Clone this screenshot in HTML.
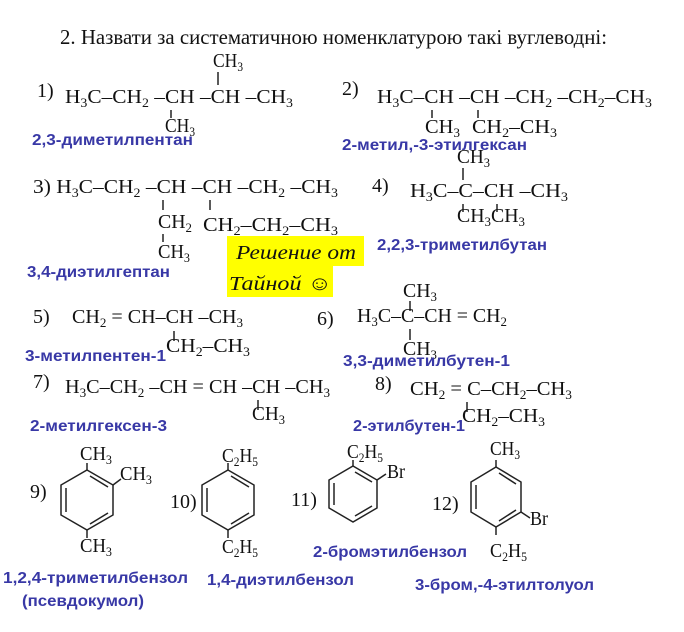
<!DOCTYPE html>
<html><head><meta charset="utf-8"><style>
html,body{margin:0;padding:0;background:#fff;}
svg{display:block;}
.f{font-family:"Liberation Serif","DejaVu Serif",serif;font-size:20px;fill:#111;}
.s{font-size:13px;}
.b{font-family:"Liberation Sans","DejaVu Sans",sans-serif;font-weight:bold;font-size:16px;fill:#3838a6;}
.h{font-family:"Liberation Serif",serif;font-style:italic;font-size:20px;fill:#111;}
line,polygon{stroke:#222;stroke-width:1.5;fill:none;}
</style></head><body>
<svg width="684" height="632" viewBox="0 0 684 632" xmlns="http://www.w3.org/2000/svg">
<text class="f" x="60" y="44" textLength="547" lengthAdjust="spacingAndGlyphs" style="font-size:21px">2. Назвати за систематичною номенклатурою такі вуглеводні:</text>

<!-- 1 -->
<text class="f" x="37" y="97">1)</text>
<text class="f" x="65" y="103" textLength="228" lengthAdjust="spacingAndGlyphs">H<tspan class="s" dy="4">3</tspan><tspan dy="-4">C–CH</tspan><tspan class="s" dy="4">2</tspan><tspan dy="-4"> –CH –CH –CH</tspan><tspan class="s" dy="4">3</tspan></text>
<text class="f" x="213" y="67" textLength="30" lengthAdjust="spacingAndGlyphs">CH<tspan class="s" dy="4">3</tspan></text>
<line x1="218" y1="72" x2="218" y2="85"/>
<line x1="171" y1="110" x2="171" y2="118"/>
<text class="f" x="165" y="132" textLength="30" lengthAdjust="spacingAndGlyphs">CH<tspan class="s" dy="4">3</tspan></text>
<text class="b" x="32" y="145" textLength="161" lengthAdjust="spacingAndGlyphs">2,3-диметилпентан</text>

<!-- 2 -->
<text class="f" x="342" y="95">2)</text>
<text class="f" x="377" y="103" textLength="275" lengthAdjust="spacingAndGlyphs">H<tspan class="s" dy="4">3</tspan><tspan dy="-4">C–CH –CH –CH</tspan><tspan class="s" dy="4">2</tspan><tspan dy="-4"> –CH</tspan><tspan class="s" dy="4">2</tspan><tspan dy="-4">–CH</tspan><tspan class="s" dy="4">3</tspan></text>
<line x1="432" y1="110" x2="432" y2="118"/><line x1="478" y1="110" x2="478" y2="118"/>
<text class="f" x="425" y="133" textLength="35" lengthAdjust="spacingAndGlyphs">CH<tspan class="s" dy="4">3</tspan></text>
<text class="f" x="472" y="133" textLength="85" lengthAdjust="spacingAndGlyphs">CH<tspan class="s" dy="4">2</tspan><tspan dy="-4">–CH</tspan><tspan class="s" dy="4">3</tspan></text>
<text class="b" x="342" y="150" textLength="185" lengthAdjust="spacingAndGlyphs">2-метил,-3-этилгексан</text>

<!-- 3 -->
<text class="f" x="33" y="193" textLength="305" lengthAdjust="spacingAndGlyphs">3) H<tspan class="s" dy="4">3</tspan><tspan dy="-4">C–CH</tspan><tspan class="s" dy="4">2</tspan><tspan dy="-4"> –CH –CH –CH</tspan><tspan class="s" dy="4">2</tspan><tspan dy="-4"> –CH</tspan><tspan class="s" dy="4">3</tspan></text>
<line x1="163" y1="200" x2="163" y2="210"/><line x1="210" y1="200" x2="210" y2="210"/>
<text class="f" x="158" y="228" textLength="34" lengthAdjust="spacingAndGlyphs">CH<tspan class="s" dy="4">2</tspan></text>
<text class="f" x="203" y="231" textLength="135" lengthAdjust="spacingAndGlyphs">CH<tspan class="s" dy="4">2</tspan><tspan dy="-4">–CH</tspan><tspan class="s" dy="4">2</tspan><tspan dy="-4">–CH</tspan><tspan class="s" dy="4">3</tspan></text>
<line x1="163" y1="234" x2="163" y2="242"/>
<text class="f" x="158" y="258" textLength="32" lengthAdjust="spacingAndGlyphs">CH<tspan class="s" dy="4">3</tspan></text>
<text class="b" x="27" y="277" textLength="143" lengthAdjust="spacingAndGlyphs">3,4-диэтилгептан</text>

<!-- 4 -->
<text class="f" x="372" y="192">4)</text>
<text class="f" x="457" y="163" textLength="33" lengthAdjust="spacingAndGlyphs">CH<tspan class="s" dy="4">3</tspan></text>
<line x1="463" y1="168" x2="463" y2="180"/>
<text class="f" x="410" y="197" textLength="158" lengthAdjust="spacingAndGlyphs">H<tspan class="s" dy="4">3</tspan><tspan dy="-4">C–C–CH –CH</tspan><tspan class="s" dy="4">3</tspan></text>
<line x1="463" y1="204" x2="463" y2="212"/><line x1="497" y1="204" x2="497" y2="212"/>
<text class="f" x="457" y="222" textLength="68" lengthAdjust="spacingAndGlyphs">CH<tspan class="s" dy="4">3</tspan><tspan dy="-4">CH</tspan><tspan class="s" dy="4">3</tspan></text>
<text class="b" x="377" y="250" textLength="170" lengthAdjust="spacingAndGlyphs">2,2,3-триметилбутан</text>

<!-- yellow -->
<rect x="227" y="236" width="137" height="30" fill="#ffff00"/>
<rect x="227" y="265" width="106" height="32" fill="#ffff00"/>
<text class="h" x="236" y="259" textLength="120" lengthAdjust="spacingAndGlyphs">Решение от</text>
<text class="h" x="229" y="290" textLength="103" lengthAdjust="spacingAndGlyphs">Тайной ☺</text>

<!-- 5 -->
<text class="f" x="33" y="323">5)</text>
<text class="f" x="72" y="323" textLength="171" lengthAdjust="spacingAndGlyphs">CH<tspan class="s" dy="4">2</tspan><tspan dy="-4"> = CH–CH –CH</tspan><tspan class="s" dy="4">3</tspan></text>
<line x1="174" y1="331" x2="174" y2="341"/>
<text class="f" x="166" y="352" textLength="84" lengthAdjust="spacingAndGlyphs">CH<tspan class="s" dy="4">2</tspan><tspan dy="-4">–CH</tspan><tspan class="s" dy="4">3</tspan></text>
<text class="b" x="25" y="361" textLength="141" lengthAdjust="spacingAndGlyphs">3-метилпентен-1</text>

<!-- 6 -->
<text class="f" x="317" y="325">6)</text>
<text class="f" x="403" y="297" textLength="34" lengthAdjust="spacingAndGlyphs">CH<tspan class="s" dy="4">3</tspan></text>
<line x1="410" y1="301" x2="410" y2="311"/>
<text class="f" x="357" y="322" textLength="150" lengthAdjust="spacingAndGlyphs">H<tspan class="s" dy="4">3</tspan><tspan dy="-4">C–C–CH = CH</tspan><tspan class="s" dy="4">2</tspan></text>
<line x1="410" y1="329" x2="410" y2="340"/>
<text class="f" x="403" y="355" textLength="34" lengthAdjust="spacingAndGlyphs">CH<tspan class="s" dy="4">3</tspan></text>
<text class="b" x="343" y="366" textLength="167" lengthAdjust="spacingAndGlyphs">3,3-диметилбутен-1</text>

<!-- 7 -->
<text class="f" x="33" y="388">7)</text>
<text class="f" x="65" y="393" textLength="265" lengthAdjust="spacingAndGlyphs">H<tspan class="s" dy="4">3</tspan><tspan dy="-4">C–CH</tspan><tspan class="s" dy="4">2</tspan><tspan dy="-4"> –CH = CH –CH –CH</tspan><tspan class="s" dy="4">3</tspan></text>
<line x1="258" y1="400" x2="258" y2="410"/>
<text class="f" x="252" y="420" textLength="33" lengthAdjust="spacingAndGlyphs">CH<tspan class="s" dy="4">3</tspan></text>
<text class="b" x="30" y="431" textLength="137" lengthAdjust="spacingAndGlyphs">2-метилгексен-3</text>

<!-- 8 -->
<text class="f" x="375" y="390">8)</text>
<text class="f" x="410" y="395" textLength="162" lengthAdjust="spacingAndGlyphs">CH<tspan class="s" dy="4">2</tspan><tspan dy="-4"> = C–CH</tspan><tspan class="s" dy="4">2</tspan><tspan dy="-4">–CH</tspan><tspan class="s" dy="4">3</tspan></text>
<line x1="467" y1="402" x2="467" y2="412"/>
<text class="f" x="462" y="422" textLength="83" lengthAdjust="spacingAndGlyphs">CH<tspan class="s" dy="4">2</tspan><tspan dy="-4">–CH</tspan><tspan class="s" dy="4">3</tspan></text>
<text class="b" x="353" y="431" textLength="112" lengthAdjust="spacingAndGlyphs">2-этилбутен-1</text>

<!-- 9 -->
<text class="f" x="30" y="498">9)</text>
<polygon points="87,470 113,485 113,515 87,530 61,515 61,485"/>
<line x1="66" y1="488" x2="66" y2="512"/><line x1="90" y1="476" x2="108" y2="487"/><line x1="90" y1="524" x2="108" y2="513"/>
<line x1="87" y1="470" x2="87" y2="463"/><line x1="113" y1="485" x2="121" y2="479"/><line x1="87" y1="530" x2="87" y2="538"/>
<text class="f" x="80" y="460" textLength="32" lengthAdjust="spacingAndGlyphs">CH<tspan class="s" dy="4">3</tspan></text>
<text class="f" x="120" y="480" textLength="32" lengthAdjust="spacingAndGlyphs">CH<tspan class="s" dy="4">3</tspan></text>
<text class="f" x="80" y="552" textLength="32" lengthAdjust="spacingAndGlyphs">CH<tspan class="s" dy="4">3</tspan></text>

<!-- 10 -->
<text class="f" x="170" y="508">10)</text>
<polygon points="228,470 254,485 254,515 228,530 202,515 202,485"/>
<line x1="207" y1="488" x2="207" y2="512"/><line x1="231" y1="476" x2="249" y2="487"/><line x1="231" y1="524" x2="249" y2="513"/>
<line x1="228" y1="470" x2="228" y2="463"/><line x1="228" y1="530" x2="228" y2="538"/>
<text class="f" x="222" y="462" textLength="36" lengthAdjust="spacingAndGlyphs">C<tspan class="s" dy="4">2</tspan><tspan dy="-4">H</tspan><tspan class="s" dy="4">5</tspan></text>
<text class="f" x="222" y="553" textLength="36" lengthAdjust="spacingAndGlyphs">C<tspan class="s" dy="4">2</tspan><tspan dy="-4">H</tspan><tspan class="s" dy="4">5</tspan></text>

<!-- 11 -->
<text class="f" x="291" y="506">11)</text>
<polygon points="353,466 377,480 377,508 353,522 329,508 329,480"/>
<line x1="334" y1="483" x2="334" y2="505"/><line x1="355" y1="472" x2="372" y2="482"/><line x1="355" y1="516" x2="372" y2="506"/>
<line x1="353" y1="466" x2="353" y2="460"/><line x1="377" y1="480" x2="386" y2="474"/>
<text class="f" x="347" y="458" textLength="36" lengthAdjust="spacingAndGlyphs">C<tspan class="s" dy="4">2</tspan><tspan dy="-4">H</tspan><tspan class="s" dy="4">5</tspan></text>
<text class="f" x="387" y="478" textLength="18" lengthAdjust="spacingAndGlyphs">Br</text>
<text class="b" x="313" y="557" textLength="154" lengthAdjust="spacingAndGlyphs">2-бромэтилбензол</text>

<!-- 12 -->
<text class="f" x="432" y="510">12)</text>
<polygon points="496,467 521,482 521,512 496,527 471,512 471,482"/>
<line x1="476" y1="485" x2="476" y2="509"/><line x1="499" y1="473" x2="516" y2="484"/><line x1="499" y1="521" x2="516" y2="510"/>
<line x1="496" y1="467" x2="496" y2="460"/><line x1="521" y1="512" x2="530" y2="518"/><line x1="496" y1="527" x2="496" y2="535"/>
<text class="f" x="490" y="455" textLength="30" lengthAdjust="spacingAndGlyphs">CH<tspan class="s" dy="4">3</tspan></text>
<text class="f" x="530" y="525" textLength="18" lengthAdjust="spacingAndGlyphs">Br</text>
<text class="f" x="490" y="557" textLength="37" lengthAdjust="spacingAndGlyphs">C<tspan class="s" dy="4">2</tspan><tspan dy="-4">H</tspan><tspan class="s" dy="4">5</tspan></text>

<text class="b" x="3" y="583" textLength="185" lengthAdjust="spacingAndGlyphs">1,2,4-триметилбензол</text>
<text class="b" x="22" y="606" textLength="122" lengthAdjust="spacingAndGlyphs">(псевдокумол)</text>
<text class="b" x="207" y="585" textLength="147" lengthAdjust="spacingAndGlyphs">1,4-диэтилбензол</text>
<text class="b" x="415" y="590" textLength="179" lengthAdjust="spacingAndGlyphs">3-бром,-4-этилтолуол</text>
</svg>
</body></html>
